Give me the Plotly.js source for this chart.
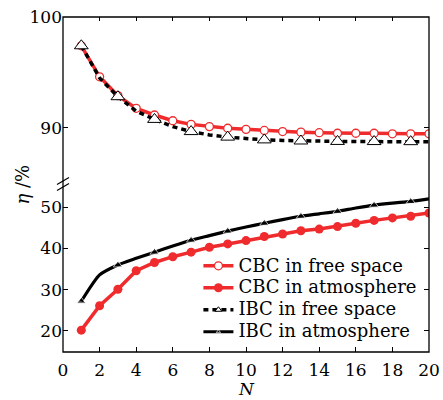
<!DOCTYPE html>
<html>
<head>
<meta charset="utf-8">
<script src="https://cdn.plot.ly/plotly-3.0.1.min.js"></script>
<style>
  html, body { margin: 0; padding: 0; background: #fff; }
  #chart { width: 443px; height: 400px; }
</style>
</head>
<body>
<div id="chart"></div>
<script>
// Number of combined beams
const N = [1, 2, 3, 4, 5, 6, 7, 8, 9, 10, 11, 12, 13, 14, 15, 16, 17, 18, 19, 20];

// Combining efficiency eta (%)
const cbcFree = [97.4, 94.6, 92.9, 91.75, 91.15, 90.63, 90.3, 90.1, 89.95, 89.85,
                 89.75, 89.65, 89.6, 89.55, 89.5, 89.5, 89.5, 89.45, 89.45, 89.45];
const cbcAtm  = [20.2, 26.1, 30.1, 34.6, 36.6, 38.0, 39.1, 40.3, 41.1, 41.9,
                 42.9, 43.5, 44.3, 44.7, 45.3, 46.1, 46.8, 47.4, 47.8, 48.6];
const ibcFree = [97.4, 94.5, 92.8, 91.5, 90.75, 90.1, 89.65, 89.35, 89.15, 89.0,
                 88.9, 88.85, 88.8, 88.78, 88.76, 88.75, 88.75, 88.74, 88.74, 88.73];
const ibcAtm  = [27.2, 33.6, 36.0, 37.6, 39.1, 40.6, 42.0, 43.1, 44.2, 45.2,
                 46.1, 47.0, 47.8, 48.4, 49.0, 49.8, 50.5, 51.0, 51.4, 52.0];

// Series names and tick labels of the broken y axis
const names = ['CBC in free space', 'CBC in atmosphere', 'IBC in free space', 'IBC in atmosphere'];
const yTicksLow = [20, 30, 40, 50];
const yTicksHigh = [90, 100];
const xTicks = [0, 2, 4, 6, 8, 10, 12, 14, 16, 18, 20];

const RED = '#ef2b2d';
const FONT = 'DejaVu Serif, serif';

// legend rows are packed tighter than the text size would give by default
const legendName = (s) => '<span style="font-size:18px">' + s + '</span>';

// IBC markers are drawn on every other beam count
const oddSizes = (s) => N.map(n => (n % 2 === 1 ? s : 0));

const traces = [
  {
    x: N, y: cbcFree, xaxis: 'x2', yaxis: 'y2',
    name: legendName(names[0]), mode: 'lines+markers',
    line: { color: RED, width: 3.5 },
    marker: { symbol: 'circle', size: 8, color: '#fff', line: { color: RED, width: 1.3 } }
  },
  {
    x: N, y: cbcAtm, xaxis: 'x', yaxis: 'y',
    name: legendName(names[1]), mode: 'lines+markers',
    line: { color: RED, width: 3.5 },
    marker: { symbol: 'circle', size: 9, color: RED }
  },
  {
    x: N, y: ibcFree, xaxis: 'x2', yaxis: 'y2',
    name: legendName(names[2]), mode: 'lines+markers',
    line: { color: '#000', width: 3.5, dash: '5px,4px' },
    marker: { symbol: 'triangle-up', size: oddSizes(12), color: '#ffffff', opacity: 1,
              line: { color: '#000', width: 1 } }
  },
  {
    x: N, y: ibcAtm, xaxis: 'x', yaxis: 'y',
    name: legendName(names[3]), mode: 'lines+markers',
    line: { color: '#000', width: 3.2, shape: 'spline', smoothing: 0.6 },
    marker: { symbol: 'triangle-up', size: oddSizes(8), color: '#000' }
  }
];

const tickFont = { family: FONT, size: 17, color: '#000' };

const layout = {
  width: 443, height: 400,
  margin: { l: 63, r: 14, t: 17, b: 48 },
  paper_bgcolor: '#fff', plot_bgcolor: '#fff',
  font: { family: FONT, color: '#000' },
  showlegend: true,
  legend: {
    x: 0.37, y: 0.305, xanchor: 'left', yanchor: 'top',
    bgcolor: 'rgba(0,0,0,0)', borderwidth: 0,
    font: { family: FONT, size: 14.6, color: '#000' },
    tracegroupgap: 0
  },
  xaxis: {
    domain: [0, 1], anchor: 'y', range: [0, 20],
    tickvals: xTicks, ticks: 'inside', ticklen: 5, tickcolor: '#000',
    ticklabelstandoff: 6,
    showline: false, showgrid: false, zeroline: false,
    tickfont: tickFont
  },
  xaxis2: {
    domain: [0, 1], anchor: 'y2', side: 'top', matches: 'x', range: [0, 20],
    tickvals: xTicks, ticks: 'inside', ticklen: 4, tickcolor: '#000',
    showticklabels: false, showline: false, showgrid: false, zeroline: false
  },
  yaxis: {
    domain: [0, 0.5], anchor: 'x', range: [14.9, 55.5],
    tickvals: yTicksLow, ticks: 'inside', ticklen: 5, tickcolor: '#000', mirror: 'ticks',
    showline: false, showgrid: false, zeroline: false, tickfont: tickFont
  },
  yaxis2: {
    domain: [0.5, 1], anchor: 'x2', range: [84.87, 100],
    tickvals: yTicksHigh, ticks: 'inside', ticklen: 5, tickcolor: '#000', mirror: 'ticks',
    showline: false, showgrid: false, zeroline: false, tickfont: tickFont
  },
  shapes: [
    // plot frame
    { type: 'rect', xref: 'paper', yref: 'paper', x0: 0, x1: 1, y0: 0, y1: 1,
      line: { color: '#000', width: 1.3 }, fillcolor: 'rgba(0,0,0,0)' },
    // axis break marks on the left spine
    { type: 'line', xref: 'paper', yref: 'paper', xsizemode: 'pixel', ysizemode: 'pixel',
      xanchor: 0, yanchor: 0.5, x0: -6, x1: 6, y0: 0, y1: 7,
      line: { color: '#000', width: 1.2 } },
    { type: 'line', xref: 'paper', yref: 'paper', xsizemode: 'pixel', ysizemode: 'pixel',
      xanchor: 0, yanchor: 0.5, x0: -6, x1: 6, y0: -6, y1: 1,
      line: { color: '#000', width: 1.2 } }
  ],
  annotations: [
    // y axis title, centred on the break
    { text: '<i>η</i> /%', xref: 'paper', yref: 'paper', x: 0, y: 0.5,
      xanchor: 'center', yanchor: 'middle', xshift: -41, textangle: -90,
      showarrow: false, font: { family: FONT, size: 18, color: '#000' } },
    // x axis title
    { text: '<i>N</i>', xref: 'paper', yref: 'paper', x: 0.5, y: 0,
      xanchor: 'center', yanchor: 'bottom', yshift: -48, borderpad: 0,
      showarrow: false, font: { family: FONT, size: 17, color: '#000' } }
  ]
};

Plotly.newPlot('chart', traces, layout, { displayModeBar: false, staticPlot: true });
</script>
</body>
</html>
